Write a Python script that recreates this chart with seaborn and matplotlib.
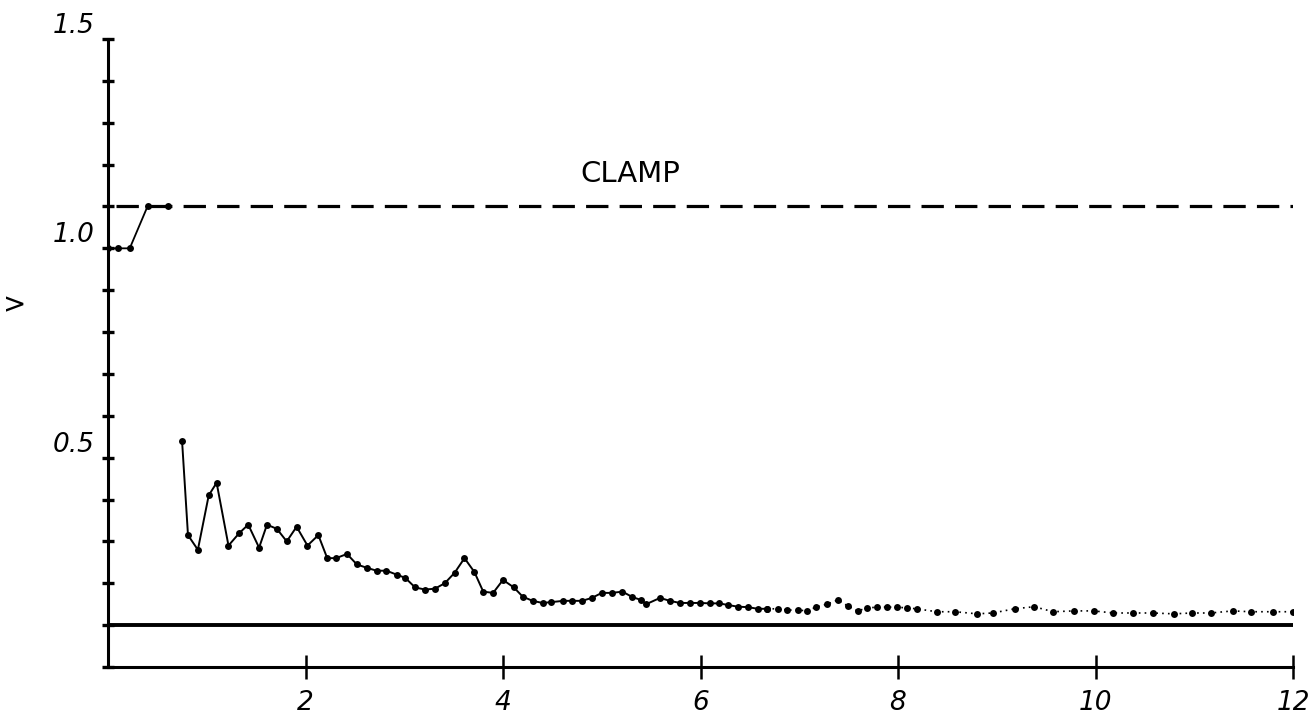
import numpy as np
import pandas as pd
import matplotlib
matplotlib.use("Agg")
import matplotlib.pyplot as plt
import seaborn as sns

# ---- data ----
start_x = [0.0, 0.1, 0.22, 0.4, 0.61]
start_y = [1.0, 1.0, 1.0, 1.1, 1.1]

series_x = [0.75, 0.81, 0.91, 1.02, 1.10, 1.22, 1.33, 1.42, 1.53, 1.61, 1.71, 1.81,
            1.91, 2.02, 2.13, 2.22, 2.31, 2.42, 2.52, 2.62, 2.72, 2.82, 2.93, 3.01,
            3.11, 3.21, 3.31, 3.41, 3.51, 3.61, 3.71, 3.80, 3.90, 4.00, 4.11, 4.20,
            4.30, 4.40, 4.49, 4.61, 4.70, 4.80, 4.90, 5.00, 5.10, 5.21, 5.31, 5.40,
            5.45, 5.59, 5.69, 5.79, 5.89, 5.99, 6.10, 6.19, 6.28, 6.38, 6.48, 6.58,
            6.67, 6.78, 6.88, 6.99, 7.08, 7.17, 7.28, 7.39, 7.49, 7.59, 7.69, 7.79,
            7.89, 7.99, 8.09, 8.19, 8.39, 8.58, 8.80, 8.96, 9.18, 9.38, 9.57, 9.78,
            9.98, 10.18, 10.38, 10.58, 10.79, 10.98, 11.17, 11.39, 11.57, 11.80, 12.0]
series_y = [0.54, 0.315, 0.28, 0.41, 0.44, 0.29, 0.32, 0.34, 0.285, 0.34, 0.33, 0.30,
            0.335, 0.29, 0.315, 0.26, 0.26, 0.27, 0.245, 0.237, 0.23, 0.23, 0.22, 0.213,
            0.19, 0.185, 0.187, 0.20, 0.225, 0.26, 0.227, 0.18, 0.177, 0.208, 0.19, 0.168,
            0.158, 0.153, 0.155, 0.158, 0.158, 0.158, 0.165, 0.177, 0.177, 0.18, 0.167, 0.16,
            0.15, 0.165, 0.158, 0.153, 0.153, 0.153, 0.152, 0.152, 0.148, 0.144, 0.143, 0.139,
            0.139, 0.139, 0.136, 0.136, 0.134, 0.143, 0.15, 0.16, 0.146, 0.134, 0.141, 0.143,
            0.143, 0.143, 0.141, 0.139, 0.132, 0.132, 0.127, 0.129, 0.139, 0.144, 0.132, 0.134,
            0.134, 0.129, 0.129, 0.129, 0.127, 0.129, 0.129, 0.134, 0.132, 0.132, 0.132]

clamp_level = 1.1
clamp_label = "CLAMP"
base_level = 0.1

x_ticks = [2, 4, 6, 8, 10, 12]
x_tick_labels = ["2", "4", "6", "8", "10", "12"]
y_ticks = [0.0, 0.1, 0.2, 0.3, 0.4, 0.5, 0.6, 0.7, 0.8, 0.9, 1.0, 1.1, 1.2, 1.3, 1.4, 1.5]
y_tick_labels = ["", "", "", "", "", "0.5", "", "", "", "", "1.0", "", "", "", "", "1.5"]

# ---- figure ----
sns.set_style("white")
plt.rcParams['font.family'] = ['DejaVu Sans']

W, H = 1310, 718
fig = plt.figure(figsize=(W / 100, H / 100), dpi=100)
x0, x1 = 108, 1293
y_top, y_bot = 39, 667
ax = fig.add_axes([x0 / W, 1 - y_bot / H, (x1 - x0) / W, (y_bot - y_top) / H])
ax.set_xlim(0, 12)
ax.set_ylim(0, 1.5)
ax.patch.set_alpha(0)

# reference lines
ax.hlines(base_level, 0, 12, color="black", lw=2.8, zorder=2)
ax.hlines(clamp_level, 0.08, 12, color="black", lw=2.3, linestyles=(0, (7, 3.5)), zorder=2)
ax.text(4.78, clamp_level + 0.045, clamp_label, fontsize=21, color="black",
        ha="left", va="bottom", fontstretch="expanded")

# start segment
df0 = pd.DataFrame({"x": start_x, "y": start_y})
sns.lineplot(data=df0, x="x", y="y", ax=ax, color="black", lw=1.3, marker="o",
             markersize=5, markeredgewidth=0, sort=False, zorder=3)

# main series: solid-ish part and dotted tail
df = pd.DataFrame({"x": series_x, "y": series_y})
cut = 61
sns.lineplot(data=df.iloc[:cut], x="x", y="y", ax=ax, color="black", lw=1.4,
             marker="o", markersize=5, markeredgewidth=0, sort=False, zorder=3)
sns.lineplot(data=df.iloc[cut - 1:], x="x", y="y", ax=ax, color="black", lw=1.2,
             linestyle=(0, (1, 2.5)), marker="o", markersize=5, markeredgewidth=0,
             sort=False, zorder=3)

# axes styling
for s in ["top", "right"]:
    ax.spines[s].set_visible(False)
for s in ["left", "bottom"]:
    ax.spines[s].set_linewidth(2.2)
    ax.spines[s].set_color("black")

ax.set_xticks(x_ticks)
ax.set_xticklabels(x_tick_labels, fontsize=19, style="italic")
ax.set_yticks(y_ticks)
ax.set_yticklabels(y_tick_labels, fontsize=19, style="italic")
ax.tick_params(axis="x", bottom=True, direction="inout", length=17, width=1.8, pad=8,
               colors="black")
ax.tick_params(axis="y", left=True, direction="inout", length=9, width=2.4, pad=5,
               colors="black")
for lab in ax.get_yticklabels():
    lab.set_verticalalignment("bottom")
ax.set_xlabel("")
ax.set_ylabel("")
ax.grid(False)

# partial mark at the left edge
fig.text(15 / W, 1 - 305 / H, ">", fontsize=20, ha="center", va="center",
         color="black", rotation=0)

fig.savefig("out.png", dpi=100)
